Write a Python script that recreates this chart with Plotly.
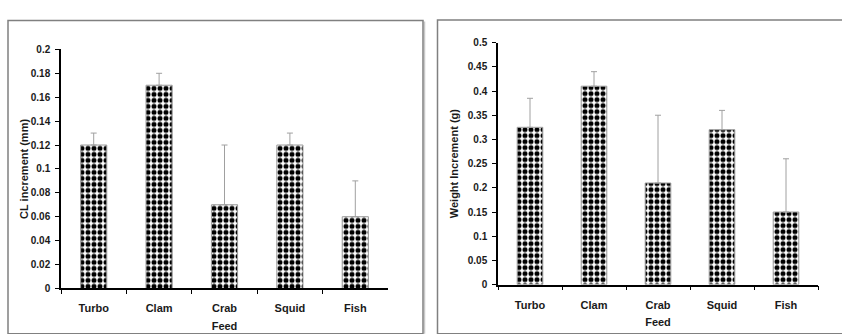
import plotly.graph_objects as go

# Feed trial results: mean increment and upper error (SD) per feed type
feeds = ["Turbo", "Clam", "Crab", "Squid", "Fish"]
cl_increment = [0.12, 0.17, 0.07, 0.12, 0.06]
cl_error = [0.01, 0.01, 0.05, 0.01, 0.03]
weight_increment = [0.325, 0.41, 0.21, 0.32, 0.15]
weight_error = [0.06, 0.03, 0.14, 0.04, 0.11]

cl_ticks = [0, 0.02, 0.04, 0.06, 0.08, 0.1, 0.12, 0.14, 0.16, 0.18, 0.2]
cl_ticklabels = ["0", "0.02", "0.04", "0.06", "0.08", "0.1", "0.12", "0.14", "0.16", "0.18", "0.2"]
wt_ticks = [0, 0.05, 0.1, 0.15, 0.2, 0.25, 0.3, 0.35, 0.4, 0.45, 0.5]
wt_ticklabels = ["0", "0.05", "0.1", "0.15", "0.2", "0.25", "0.3", "0.35", "0.4", "0.45", "0.5"]

W, H = 842, 334
FONT = "Liberation Sans, Arial, sans-serif"
TXT = "#1a1a1a"


def px_x(v):
    return v / W


def px_y(v):
    return 1 - v / H


def bar_trace(values, errors, xa, ya):
    return go.Bar(
        x=feeds, y=values, xaxis=xa, yaxis=ya, width=0.4,
        marker=dict(
            color="white",
            line=dict(color="#9a9a9a", width=1),
            pattern=dict(shape=".", fgcolor="black", bgcolor="white", fgopacity=1,
                         size=6, solidity=0.55, fillmode="replace"),
        ),
        error_y=dict(type="data", array=errors, arrayminus=[0] * len(errors),
                     symmetric=False, color="#a0a0a0", thickness=1, width=3),
        showlegend=False,
    )


fig = go.Figure()
fig.add_trace(bar_trace(cl_increment, cl_error, "x", "y"))
fig.add_trace(bar_trace(weight_increment, weight_error, "x2", "y2"))

tickfont = dict(family=FONT, size=10, color=TXT)
common_x = dict(type="category", tickson="boundaries", ticks="outside", ticklen=4,
                tickcolor="black", showline=True, linecolor="black", linewidth=1.5,
                showgrid=False, tickfont=dict(family=FONT, size=11, color=TXT),
                ticklabelstandoff=9,
                title=dict(text="<b>Feed</b>", font=dict(family=FONT, size=11, color=TXT),
                           standoff=9))
common_y = dict(ticks="outside", ticklen=4, tickcolor="black", showline=True,
                linecolor="black", linewidth=1.5, showgrid=False, zeroline=False,
                tickfont=tickfont, ticklabelstandoff=3)

fig.update_layout(
    width=W, height=H, margin=dict(l=0, r=0, t=0, b=0),
    paper_bgcolor="white", plot_bgcolor="white",
    xaxis=dict(common_x, domain=[px_x(61), px_x(388)], anchor="y",
               ticktext=[f"<b>{f}</b>" for f in feeds], tickvals=feeds),
    yaxis=dict(common_y, domain=[px_y(293), px_y(45)], anchor="x", range=[0, 0.2],
               tickmode="array", tickvals=cl_ticks,
               ticktext=[f"<b>{t}</b>" for t in cl_ticklabels],
               title=dict(text="<b>CL increment (mm)</b>",
                          font=dict(family=FONT, size=11, color=TXT), standoff=0)),
    xaxis2=dict(common_x, domain=[px_x(498), px_x(818)], anchor="y2",
                ticktext=[f"<b>{f}</b>" for f in feeds], tickvals=feeds),
    yaxis2=dict(common_y, domain=[px_y(289), px_y(38)], anchor="x2", range=[0, 0.5],
                tickmode="array", tickvals=wt_ticks,
                ticktext=[f"<b>{t}</b>" for t in wt_ticklabels],
                title=dict(text="<b>Weight Increment (g)</b>",
                           font=dict(family=FONT, size=11, color=TXT), standoff=7)),
    bargap=0.6,
)

# Frames around each panel (left one has a soft shadow on its right edge)
fig.add_shape(type="line", xref="paper", yref="paper",
              x0=px_x(424.5), x1=px_x(424.5), y0=px_y(340), y1=px_y(16),
              line=dict(color="#c8c8c8", width=1.5), layer="below")
fig.add_shape(type="rect", xref="paper", yref="paper",
              x0=px_x(8), x1=px_x(423), y0=px_y(340), y1=px_y(15),
              line=dict(color="#808080", width=1.5), fillcolor="rgba(0,0,0,0)", layer="below")
fig.add_shape(type="rect", xref="paper", yref="paper",
              x0=px_x(437.5), x1=px_x(850), y0=px_y(340), y1=px_y(14.5),
              line=dict(color="#808080", width=1.5), fillcolor="rgba(0,0,0,0)", layer="below")

fig.write_html("out.html")
